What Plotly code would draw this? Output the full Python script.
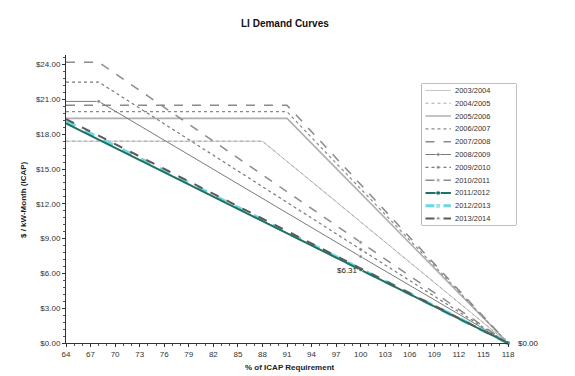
import plotly.graph_objects as go

# ---------------- data ----------------
years = ["2003/2004", "2004/2005", "2005/2006", "2006/2007", "2007/2008",
         "2008/2009", "2009/2010", "2010/2011", "2011/2012", "2012/2013", "2013/2014"]

pct_2003_04 = [64, 88, 118]
usd_2003_04 = [17.40, 17.40, 0.00]
pct_2004_05 = [64, 88, 118]
usd_2004_05 = [17.40, 17.40, 0.00]
pct_2005_06 = [64, 91, 118]
usd_2005_06 = [19.37, 19.37, 0.00]
pct_2006_07 = [64, 91, 118]
usd_2006_07 = [19.94, 19.94, 0.00]
pct_2007_08 = [64, 91, 118]
usd_2007_08 = [20.50, 20.50, 0.00]
pct_2008_09 = [64, 68, 100, 118]
usd_2008_09 = [20.83, 20.83, 7.45, 0.00]
pct_2009_10 = [64, 68, 100, 118]
usd_2009_10 = [22.50, 22.50, 8.07, 0.00]
pct_2010_11 = [64, 68, 100, 118]
usd_2010_11 = [24.20, 24.20, 8.68, 0.00]
pct_2011_12 = [64, 100, 118]
usd_2011_12 = [18.93, 6.31, 0.00]
pct_2012_13 = [64, 100, 118]
usd_2012_13 = [19.10, 6.37, 0.00]
pct_2013_14 = [64, 100, 118]
usd_2013_14 = [19.30, 6.43, 0.00]

x_ticks = list(range(64, 119, 3))
y_ticks = [0, 3, 6, 9, 12, 15, 18, 21, 24]

# ---------------- styles ----------------
# msizes: marker size for each point of the series (0 = no marker)
styles = {
    "2003/2004": dict(color="#c4c4c4", width=1.0, dash="solid", symbol="circle", msizes=[0, 0, 0], lsize=0),
    "2004/2005": dict(color="#a8a8a8", width=1.0, dash="dot", symbol="circle", msizes=[0, 0, 0], lsize=0),
    "2005/2006": dict(color="#b0b0b0", width=1.6, dash="solid", symbol="circle", msizes=[0, 0, 0], lsize=0),
    "2006/2007": dict(color="#8a8a8a", width=1.2, dash="dot", symbol="circle", msizes=[0, 0, 0], lsize=0),
    "2007/2008": dict(color="#8a8a8a", width=1.5, dash="dash", symbol="circle", msizes=[0, 0, 0], lsize=0),
    "2008/2009": dict(color="#7a7a7a", width=1.0, dash="solid", symbol="circle", msizes=[0, 4, 4, 0], lsize=4),
    "2009/2010": dict(color="#7a7a7a", width=1.2, dash="dot", symbol="circle", msizes=[0, 0, 4, 0], lsize=4),
    "2010/2011": dict(color="#8c8c8c", width=1.5, dash="dash", symbol="circle", msizes=[0, 0, 4, 0], lsize=4),
    "2011/2012": dict(color="#1f7263", width=2.0, dash="solid", symbol="circle", msizes=[0, 4, 5], lsize=5),
    "2012/2013": dict(color="#6dd6e3", width=3.5, dash="dash", symbol="square", msizes=[0, 0, 5], lsize=5),
    "2013/2014": dict(color="#5a5a5a", width=2.0, dash="dash", symbol="triangle-up", msizes=[0, 0, 0], lsize=5),
}

series = {
    "2003/2004": (pct_2003_04, usd_2003_04),
    "2004/2005": (pct_2004_05, usd_2004_05),
    "2005/2006": (pct_2005_06, usd_2005_06),
    "2006/2007": (pct_2006_07, usd_2006_07),
    "2007/2008": (pct_2007_08, usd_2007_08),
    "2008/2009": (pct_2008_09, usd_2008_09),
    "2009/2010": (pct_2009_10, usd_2009_10),
    "2010/2011": (pct_2010_11, usd_2010_11),
    "2011/2012": (pct_2011_12, usd_2011_12),
    "2012/2013": (pct_2012_13, usd_2012_13),
    "2013/2014": (pct_2013_14, usd_2013_14),
}

draw_order = ["2003/2004", "2004/2005", "2005/2006", "2006/2007", "2007/2008",
              "2008/2009", "2009/2010", "2010/2011", "2012/2013", "2011/2012", "2013/2014"]

# the page body has an 8px margin: lay out in reference pixels minus that offset
OFF = 8
W, H = 575 - OFF, 376 - OFF
FONT = "Liberation Sans, Arial, sans-serif"


def px(x):
    return (x - OFF) / W


def py(y):
    return 1 - (y - OFF) / H


fig = go.Figure()

for yr in draw_order:
    xs, ys = series[yr]
    st = styles[yr]
    fig.add_trace(go.Scatter(
        x=xs, y=ys, mode="lines+markers", name=yr, showlegend=False, hoverinfo="x+y+name",
        line=dict(color=st["color"], width=st["width"], dash=st["dash"]),
        marker=dict(symbol=st["symbol"], size=st["msizes"], color=st["color"]),
        cliponaxis=False,
    ))

# manual legend (compact spacing like the reference)
for i, yr in enumerate(years):
    st = styles[yr]
    fig.add_trace(go.Scatter(
        x=[0.04, 0.175, 0.31], y=[i, i, i], xaxis="x2", yaxis="y2",
        mode="lines+markers", showlegend=False, hoverinfo="skip",
        line=dict(color=st["color"], width=min(st["width"], 3), dash=st["dash"]),
        marker=dict(symbol=st["symbol"], size=[0, st["lsize"], 0], color=st["color"]),
    ))
    fig.add_annotation(x=0.33, y=i, xref="x2", yref="y2", text=yr, showarrow=False,
                       xanchor="left", yanchor="middle",
                       font=dict(size=7.5, color="#333333", family=FONT))

fig.add_shape(type="rect", xref="x2 domain", yref="y2 domain", x0=0, x1=1, y0=0, y1=1,
              line=dict(color="#808080", width=1), fillcolor="rgba(0,0,0,0)", layer="below")

# point labels
fig.add_annotation(x=100, y=usd_2011_12[1], text="$6.31", showarrow=False,
                   xanchor="right", yanchor="middle", xshift=-1, yshift=-1,
                   font=dict(size=8, color="#222222", family=FONT))
fig.add_annotation(x=118, y=usd_2011_12[-1], text="$0.00", showarrow=False,
                   xanchor="left", yanchor="middle", xshift=8,
                   font=dict(size=8, color="#222222", family=FONT))

# titles
fig.add_annotation(x=px(285), y=py(23), xref="paper", yref="paper", text="<b>LI Demand Curves</b>",
                   showarrow=False, xanchor="center", yanchor="middle",
                   font=dict(size=10, color="#111111", family=FONT))
fig.add_annotation(x=px(290), y=py(367), xref="paper", yref="paper", text="<b>% of ICAP Requirement</b>",
                   showarrow=False, xanchor="center", yanchor="middle",
                   font=dict(size=8, color="#222222", family=FONT))
fig.add_annotation(x=px(23), y=py(200), xref="paper", yref="paper", text="<b>$ / kW-Month (ICAP)</b>",
                   showarrow=False, xanchor="center", yanchor="middle", textangle=-90,
                   font=dict(size=8, color="#222222", family=FONT))

axis_common = dict(showgrid=False, zeroline=False, showline=True, linecolor="#333333", linewidth=1,
                   ticks="outside", ticklen=3, tickcolor="#333333", automargin=False,
                   tickfont=dict(size=8, color="#333333", family=FONT))

fig.update_layout(
    width=W, height=H, margin=dict(l=0, r=0, t=0, b=0),
    paper_bgcolor="white", plot_bgcolor="white",
    font=dict(family=FONT),
    xaxis=dict(domain=[px(66), px(508)], range=[64, 118], tickmode="array", tickvals=x_ticks,
               ticktext=[str(v) for v in x_ticks],
               minor=dict(dtick=1, tick0=64, ticks="outside", ticklen=2, tickcolor="#555555"),
               anchor="y", **axis_common),
    yaxis=dict(domain=[py(343), py(55)], range=[0, 24.83], tickmode="array",
               tickvals=y_ticks, ticktext=["$%.2f" % v for v in y_ticks],
               minor=dict(dtick=0.6, tick0=0, ticks="outside", ticklen=2, tickcolor="#555555"),
               anchor="x", **axis_common),
    xaxis2=dict(domain=[px(421.7), px(516)], range=[0, 1], visible=False, anchor="y2", fixedrange=True),
    yaxis2=dict(domain=[py(225), py(84)], range=[10.5, -0.5], visible=False, anchor="x2",
                fixedrange=True),
)

fig.write_html("out.html")
